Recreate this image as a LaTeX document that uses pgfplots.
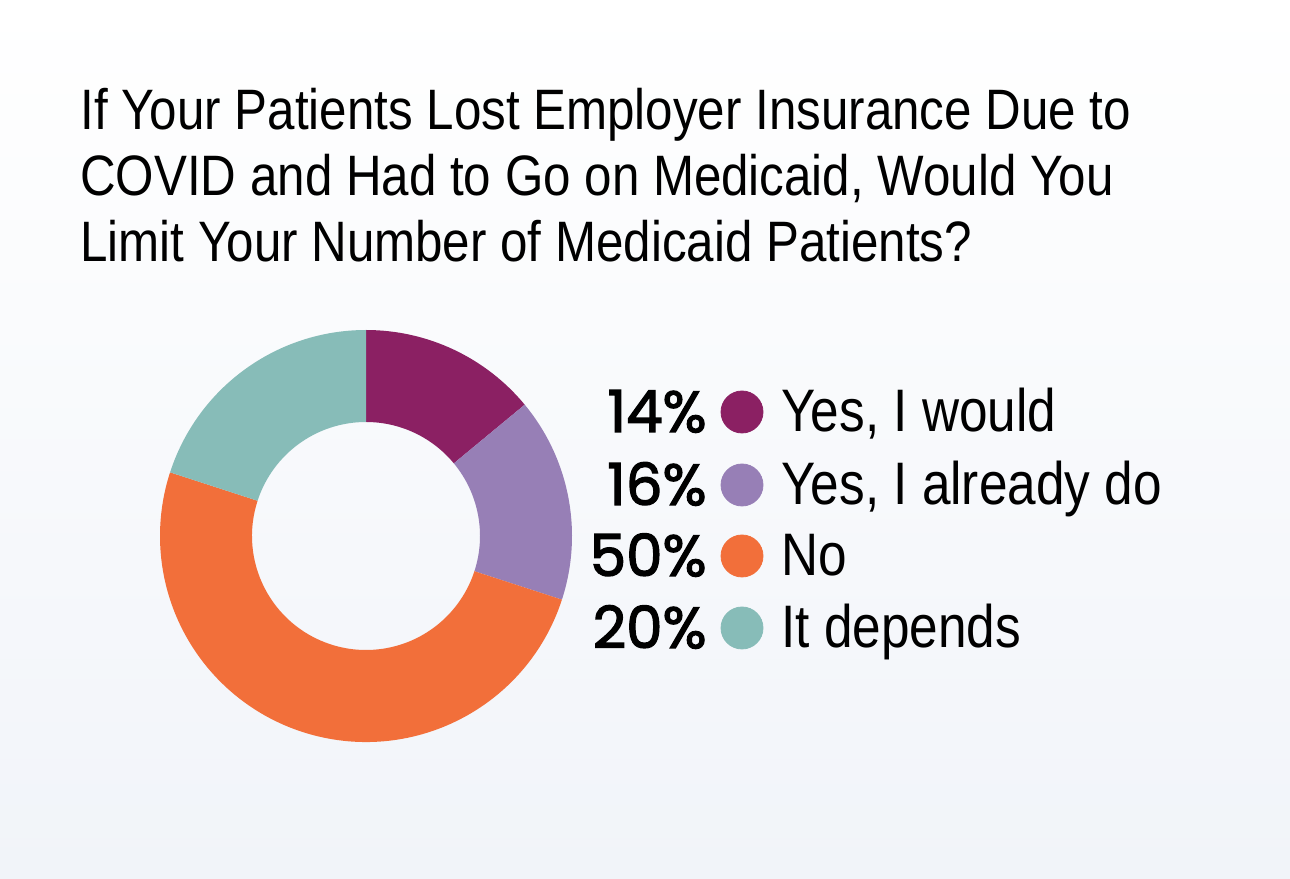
\documentclass[border=0pt]{standalone}
\usepackage{fontspec}
\setmainfont{Liberation Sans}
\newfontfamily\condfont[FakeStretch=0.855]{Liberation Sans}
\newfontfamily\titlefont[FakeStretch=0.865]{Liberation Sans}
\newfontfamily\pctfont[FakeBold=2.2]{Poppins}
\usepackage{pgfplots}
\pgfplotsset{compat=1.18}
\usetikzlibrary{calc}

\definecolor{cYes}{HTML}{8B2063}
\definecolor{cAlready}{HTML}{977FB6}
\definecolor{cNo}{HTML}{F26F3A}
\definecolor{cDep}{HTML}{87BCB8}
\definecolor{bgBot}{HTML}{F1F4F9}

% one ring segment: #1 start (percent), #2 share (percent), #3 colour
% axis units are pixels of the reference, 1 px = 0.5pt
\newcommand{\ringslice}[3]{%
  \fill[#3] ($(axis cs:366,342)+({90-3.6*#1}:103pt)$)
    arc[start angle={90-3.6*#1}, end angle={90-3.6*(#1+#2)}, radius=103pt]
    -- ($(axis cs:366,342)+({90-3.6*(#1+#2)}:57pt)$)
    arc[start angle={90-3.6*(#1+#2)}, end angle={90-3.6*#1}, radius=57pt]
    -- cycle;}

% legend row: #1 baseline y, #2 percent, #3 label
\newcommand{\legendrow}[3]{%
  \node[anchor=base east, inner sep=0pt, font=\pctfont\fontsize{29}{33}\selectfont]
    at (axis cs:707,#1) {#2\%};
  \node[anchor=base west, inner sep=0pt, font=\condfont\fontsize{30}{34}\selectfont]
    at (axis cs:781,#1) {#3};}

\begin{document}
\begin{tikzpicture}
\begin{axis}[at={(0,0)}, anchor=south west, scale only axis,
    width=645pt, height=439pt,
    xmin=0, xmax=1290, ymin=0, ymax=878,
    hide axis, clip=false]
  \shade[top color=white, bottom color=bgBot] (axis cs:0,0) rectangle (axis cs:1290,878);

  % title
  \node[anchor=base west, inner sep=0pt, font=\titlefont\fontsize{28.5}{33}\selectfont]
    at (axis cs:80,748) {If Your Patients Lost Employer Insurance Due to};
  \node[anchor=base west, inner sep=0pt, font=\titlefont\fontsize{28.5}{33}\selectfont]
    at (axis cs:80,682) {COVID and Had to Go on Medicaid, Would You};
  \node[anchor=base west, inner sep=0pt, font=\titlefont\fontsize{28.5}{33}\selectfont]
    at (axis cs:80,616) {Limit Your Number of Medicaid Patients?};

  % donut: 14, 16, 50, 20 percent, clockwise from the top
  \ringslice{0}{14}{cYes}
  \ringslice{14}{16}{cAlready}
  \ringslice{30}{50}{cNo}
  \ringslice{80}{20}{cDep}

  % legend markers
  \addplot[only marks, mark=*, mark size=10.5pt, color=cYes] coordinates {(742,466)};
  \addplot[only marks, mark=*, mark size=10.5pt, color=cAlready] coordinates {(742,393)};
  \addplot[only marks, mark=*, mark size=10.5pt, color=cNo] coordinates {(742,322)};
  \addplot[only marks, mark=*, mark size=10.5pt, color=cDep] coordinates {(742,250)};

  \legendrow{446}{14}{Yes, I would}
  \legendrow{373}{16}{Yes, I already do}
  \legendrow{302}{50}{No}
  \legendrow{230}{20}{It depends}
\end{axis}
\end{tikzpicture}
\end{document}
